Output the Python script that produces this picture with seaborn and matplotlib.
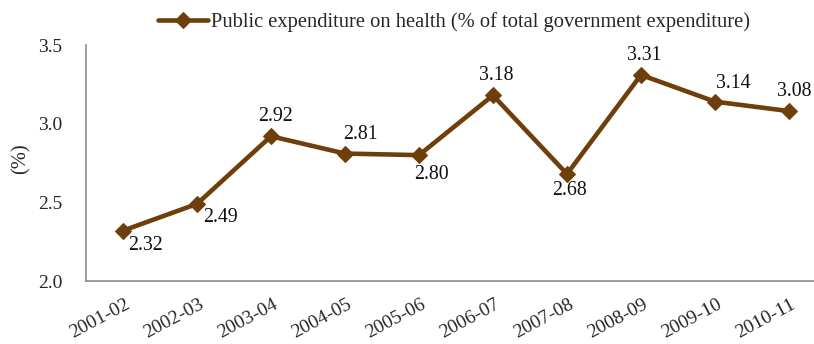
import matplotlib
matplotlib.use("Agg")
import matplotlib.pyplot as plt
import matplotlib.transforms as mtransforms
import seaborn as sns
import pandas as pd

# Public expenditure on health, share of total government expenditure
periods = ["2001-02", "2002-03", "2003-04", "2004-05", "2005-06",
           "2006-07", "2007-08", "2008-09", "2009-10", "2010-11"]
health_share = [2.32, 2.49, 2.92, 2.81, 2.80, 3.18, 2.68, 3.31, 3.14, 3.08]
# label placement for each value: (dx, dy) offset in points
label_offsets = [(16, -11), (17, -10), (3.5, 14), (11, 14), (9, -14),
                 (2, 14), (1.5, -12), (2, 14), (13, 13), (4, 14)]
series_name = "Public expenditure on health (% of total government expenditure)"

sns.set_theme(style="white")
plt.rcParams["font.family"] = ["Liberation Serif", "DejaVu Serif"]

brown = "#6E3F0B"
axis_grey = "#8C8C8C"
fs_tick = 14
fs_cat = 14
fs_lab = 14.8
fs_val = 14.3

df = pd.DataFrame({"period": periods, "share": health_share})

fig = plt.figure(figsize=(8.14, 3.44), dpi=100)
ax = fig.add_axes([86 / 814, 1 - 281 / 344, (826 - 86) / 814, (281 - 45) / 344])

sns.lineplot(data=df, x="period", y="share", ax=ax, color=brown,
             linewidth=3.3, marker="D", markersize=8, markeredgecolor=brown,
             label=series_name, sort=False)

ax.set_ylim(2.0, 3.5)
ax.set_yticks([2.0, 2.5, 3.0, 3.5])
ax.set_yticklabels([f"{v:.1f}" for v in [2.0, 2.5, 3.0, 3.5]], fontsize=fs_tick)
ax.set_xlim(-0.5, len(periods) - 0.5)

# category labels at centres, tick marks at category boundaries
ax.set_xticks(range(len(periods)))
ax.set_xticklabels(periods, rotation=28, ha="right", va="center",
                   rotation_mode="anchor", fontsize=fs_cat)
ax.set_xticks([i - 0.5 for i in range(len(periods) + 1)], minor=True)
ax.tick_params(axis="x", which="major", length=0, pad=16)
ax.tick_params(axis="x", which="minor", length=5, width=1, color=axis_grey,
               direction="out")
ax.tick_params(axis="y", length=5, width=1, color=axis_grey, direction="out",
               pad=12)
shift = mtransforms.ScaledTranslation(4 / 72, 0, fig.dpi_scale_trans)
for lab in ax.get_xticklabels():
    lab.set_transform(lab.get_transform() + shift)

ax.set_xlabel("")
ax.set_ylabel("(%)", fontsize=fs_lab)
ax.yaxis.set_label_coords(-0.075, 0.52)

for side in ["top", "right"]:
    ax.spines[side].set_visible(False)
for side in ["left", "bottom"]:
    ax.spines[side].set_color(axis_grey)
    ax.spines[side].set_linewidth(1.2)

for i, (v, (dx, dy)) in enumerate(zip(health_share, label_offsets)):
    ax.annotate(f"{v:.2f}", (i, v), xytext=(dx, dy), textcoords="offset points",
                ha="center", va="center", fontsize=fs_val, color="#111111")

leg = ax.legend(loc="center", bbox_to_anchor=(454 / 814, 1 - 22 / 344),
                bbox_transform=fig.transFigure, frameon=False, fontsize=fs_lab,
                handlelength=2.4, handletextpad=0.15, borderaxespad=0)

fig.savefig("out.png", dpi=100)
